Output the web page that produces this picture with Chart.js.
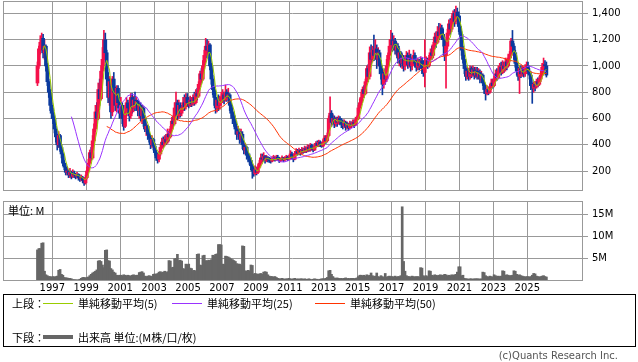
<!DOCTYPE html>
<html>
<head>
<meta charset="utf-8">
<script src="https://cdn.jsdelivr.net/npm/chart.js@4.4.1/dist/chart.umd.min.js"></script>
<style>
body{margin:0;background:#fff;width:638px;height:362px;position:relative;overflow:hidden;font-family:"Noto Sans CJK JP",sans-serif;color:#000}
canvas{position:absolute;left:0}
#price{top:0}
#vol{top:195px}
.lg{position:absolute;font-size:11px;line-height:12px;white-space:nowrap}
.ln{position:absolute;width:30px;height:1px}
#box{position:absolute;left:3px;top:294px;width:633px;height:53px;border:1px solid #000;box-sizing:border-box}
#copy{position:absolute;right:20px;top:350px;font:10px "DejaVu Sans",sans-serif;line-height:12px;color:#555}
</style>
</head>
<body>
<canvas id="price" width="638" height="192"></canvas>
<canvas id="vol" width="638" height="100"></canvas>
<div class="lg" style="left:8px;top:204px">単位: M</div>

<div id="box"></div>
<div class="lg" style="left:12px;top:297px">上段：</div>
<div class="ln" style="left:43px;top:303px;background:#99cc00"></div>
<div class="lg" style="left:78px;top:297px">単純移動平均(5)</div>
<div class="ln" style="left:172px;top:303px;background:#9933ff"></div>
<div class="lg" style="left:207px;top:297px">単純移動平均(25)</div>
<div class="ln" style="left:315px;top:303px;background:#ff3300"></div>
<div class="lg" style="left:350px;top:297px">単純移動平均(50)</div>
<div class="lg" style="left:12px;top:331px">下段：</div>
<div class="ln" style="left:43px;top:335px;height:4px;background:#666"></div>
<div class="lg" style="left:78px;top:331px">出来高 単位:(M株/口/枚)</div>
<div id="copy">(c)Quants Research Inc.</div>

<script>
// monthly bars, first one is Feb 1996
const startYear = 1996, startMonth = 2;

const open = [
  870,1000,1130,1180,1210,1100,1150,1000,880,800,700,
  640,600,520,460,400,470,380,330,260,230,190,200,
  170,190,160,180,170,160,175,150,140,150,130,110,
  150,200,260,340,300,430,520,650,600,820,750,960,
  1050,1200,1100,900,760,880,650,900,800,700,830,720,
  640,700,600,540,650,720,680,620,760,680,740,700,
  730,660,700,620,680,600,520,540,480,450,400,440,
  390,340,300,290,330,380,420,400,440,420,480,460,
  520,580,560,680,720,620,700,640,680,720,690,760,
  720,700,740,710,760,720,790,770,860,940,900,1000,
  1080,1150,1120,1160,1000,900,820,760,680,740,700,730,
  760,780,740,800,760,780,700,640,620,580,520,480,
  500,440,480,400,360,380,320,300,280,240,200,180,
  210,190,230,260,300,290,310,280,300,290,280,275,
  290,300,285,305,295,280,290,300,285,295,305,290,
  300,330,310,290,330,350,335,355,340,360,345,370,
  355,380,360,395,375,360,390,410,395,420,400,390,
  420,450,430,470,600,640,570,600,560,590,570,600,
  580,560,545,570,540,555,530,560,545,570,550,590,
  600,680,720,760,820,790,880,980,920,1100,1050,1120,
  1080,1130,1050,1100,1000,950,860,940,900,1000,1080,1150,
  1200,1160,1190,1120,1150,1060,1100,1020,1060,1000,1040,1080,
  1010,1060,1000,1040,1080,1020,990,1030,1000,1040,980,950,
  1010,1040,1000,1050,1100,1080,1160,1220,1180,1260,1230,1290,
  1240,1200,1080,1150,1250,1320,1280,1350,1400,1340,1410,1380,
  1300,1240,1120,1050,980,920,960,920,980,940,970,930,
  960,920,950,900,930,870,820,790,820,800,840,870,
  850,900,940,910,960,990,950,1000,980,1030,1000,1060,
  1080,1190,1150,1100,1020,960,920,980,940,980,940,990,
  1000,960,930,850,830,860,840,880,860,900,930,990,
  1010,1000
];
const high = [
  1030,1150,1230,1250,1240,1200,1160,1020,900,820,720,
  680,620,540,480,500,480,400,340,280,250,230,210,
  220,200,210,200,185,190,180,165,170,160,140,170,
  230,290,360,380,470,560,700,720,870,900,1000,1140,
  1270,1250,1120,950,920,900,920,950,840,850,850,760,
  760,720,640,700,760,740,700,790,790,770,800,760,
  740,720,720,700,690,620,560,550,500,470,470,450,
  410,360,320,350,400,450,460,470,480,520,500,540,
  610,620,720,800,740,740,720,700,760,780,790,790,
  760,770,760,780,800,820,830,880,960,980,1040,1120,
  1210,1200,1190,1170,1020,930,840,800,760,780,770,800,
  820,800,855,820,830,790,720,670,650,600,540,540,
  520,520,500,420,410,390,340,330,300,250,230,240,
  230,250,280,330,330,340,320,320,310,305,300,310,
  320,310,320,320,305,300,315,305,310,320,315,320,
  355,345,330,350,370,365,375,365,380,375,390,385,
  400,395,410,405,390,410,425,430,435,430,420,440,
  470,470,490,620,765,660,630,620,610,610,620,615,
  600,590,590,580,575,565,580,575,590,590,610,620,
  700,750,800,840,850,900,1000,1010,1145,1160,1150,1235,
  1200,1160,1140,1120,1040,980,970,980,1050,1100,1200,1270,
  1250,1230,1210,1180,1170,1130,1110,1090,1080,1070,1110,1100,
  1120,1090,1070,1120,1100,1040,1060,1050,1070,1060,1040,1200,
  1070,1060,1080,1130,1150,1180,1250,1260,1300,1325,1320,1310,
  1280,1220,1180,1280,1350,1360,1380,1420,1430,1455,1440,1410,
  1380,1260,1150,1080,1000,990,980,1000,995,1000,990,990,
  990,980,970,960,940,890,840,850,840,860,900,900,
  920,970,980,1000,1020,1030,1040,1030,1060,1050,1090,1110,
  1210,1270,1170,1120,1040,990,1000,1000,1000,990,1010,1030,
  1030,980,950,870,880,880,900,910,920,960,1020,1060,
  1040,1030
];
const low = [
  850,980,1090,1120,1060,1050,960,850,760,660,600,
  560,490,420,360,380,350,300,240,210,170,170,150,
  150,140,150,150,140,145,130,120,125,110,90,100,
  140,190,250,280,290,410,500,560,590,700,740,900,
  1000,1050,850,720,700,600,620,760,660,650,680,600,
  600,560,510,530,620,640,580,600,640,650,660,680,
  620,600,580,560,540,500,470,440,420,370,380,360,
  320,280,260,270,320,370,380,390,400,410,430,450,
  510,530,550,650,590,600,610,620,660,660,670,690,
  680,690,690,700,700,710,740,760,840,870,890,980,
  1040,1060,1080,970,860,780,700,640,650,660,670,700,
  720,710,730,730,740,660,600,560,540,480,440,460,
  410,420,370,330,330,290,270,250,210,145,160,170,
  170,180,220,250,270,280,260,270,270,265,260,270,
  280,275,280,285,265,270,280,270,275,285,280,285,
  290,295,270,285,320,320,325,320,330,335,340,340,
  345,350,350,360,345,355,380,385,385,385,380,385,
  410,410,420,460,580,540,550,530,540,540,555,550,
  530,520,530,510,520,510,520,530,540,530,545,570,
  590,660,700,740,760,780,860,880,900,1000,1030,1040,
  1050,980,1000,940,900,780,830,860,880,980,1050,1120,
  1110,1120,1090,1080,1020,1000,990,980,960,970,1000,980,
  990,960,970,1010,990,960,970,970,980,940,920,840,
  990,980,990,1030,1050,1060,1130,1140,1170,1200,1210,1200,
  1150,1040,830,1130,1230,1240,1260,1320,1300,1320,1350,1260,
  1220,1080,1020,940,890,900,890,900,910,920,900,910,
  900,900,870,880,850,790,740,780,780,790,820,830,
  840,880,890,900,940,930,940,950,960,970,990,1030,
  1060,1120,1050,990,930,890,790,910,920,915,920,960,
  940,900,820,715,800,810,830,840,850,880,920,960,
  940,915
];
const close = [
  1000,1130,1180,1210,1100,1150,1000,880,800,700,640,
  600,520,460,400,470,380,330,260,230,190,200,170,
  190,160,180,170,160,175,150,140,150,130,110,150,
  200,260,340,300,430,520,650,600,820,750,960,1050,
  1200,1100,900,760,880,650,900,800,700,830,720,640,
  700,600,540,650,720,680,620,760,680,740,700,730,
  660,700,620,680,600,520,540,480,450,400,440,390,
  340,300,290,330,380,420,400,440,420,480,460,520,
  580,560,680,720,620,700,640,680,720,690,760,720,
  700,740,710,760,720,790,770,860,940,900,1000,1080,
  1150,1120,1160,1000,900,820,760,680,740,700,730,760,
  780,740,800,760,780,700,640,620,580,520,480,500,
  440,480,400,360,380,320,300,280,240,200,180,210,
  190,230,260,300,290,310,280,300,290,280,275,290,
  300,285,305,295,280,290,300,285,295,305,290,300,
  330,310,290,330,350,335,355,340,360,345,370,355,
  380,360,395,375,360,390,410,395,420,400,390,420,
  450,430,470,600,640,570,600,560,590,570,600,580,
  560,545,570,540,555,530,560,545,570,550,590,600,
  680,720,760,820,790,880,980,920,1100,1050,1120,1080,
  1130,1050,1100,1000,950,860,940,900,1000,1080,1150,1200,
  1160,1190,1120,1150,1060,1100,1020,1060,1000,1040,1080,1010,
  1060,1000,1040,1080,1020,990,1030,1000,1040,980,950,1010,
  1040,1000,1050,1100,1080,1160,1220,1180,1260,1230,1290,1240,
  1200,1080,1150,1250,1320,1280,1350,1400,1340,1410,1380,1300,
  1240,1120,1050,980,920,960,920,980,940,970,930,960,
  920,950,900,930,870,820,790,820,800,840,870,850,
  900,940,910,960,990,950,1000,980,1030,1000,1060,1080,
  1190,1150,1100,1020,960,920,980,940,980,940,990,1000,
  960,930,850,830,860,840,880,860,900,930,990,1010,
  1000,930
];
// volume, millions
const volume = [
  7.0,7.3,7.3,8.5,8.6,2.2,1.4,1.2,1.0,1.0,0.9,
  1.0,0.9,1.0,1.1,2.4,2.6,1.5,1.3,0.8,0.7,0.7,0.6,
  0.6,0.5,0.3,0.3,0.3,0.2,0.3,0.4,0.6,0.8,0.8,0.7,
  0.8,0.9,1.2,1.5,1.8,2.0,2.2,2.5,4.5,4.6,4.4,3.6,
  3.0,6.9,7.0,4.6,4.5,2.8,2.5,2.0,1.8,1.3,1.2,1.3,
  1.3,1.2,1.4,1.3,1.2,1.3,1.2,1.1,1.3,1.4,1.2,1.3,
  1.3,1.9,2.0,2.1,1.8,1.1,1.0,1.1,1.2,1.1,1.0,1.5,
  1.6,1.5,1.7,2.0,2.1,1.9,2.0,2.2,1.9,2.1,4.6,4.5,
  3.0,3.1,5.0,5.1,6.0,4.6,4.7,4.5,2.8,2.7,3.8,3.7,
  3.8,2.9,2.8,2.3,2.4,2.2,6.0,6.1,3.6,3.5,5.7,5.8,
  4.6,4.5,4.7,4.6,4.8,5.8,5.7,6.0,6.1,8.2,8.2,8.1,
  3.8,3.7,5.6,5.5,5.4,5.2,5.0,4.8,4.6,4.4,3.9,3.8,
  3.8,3.6,7.9,7.8,2.3,2.2,2.4,2.3,3.6,3.5,1.6,1.7,
  1.6,1.5,1.6,1.7,1.5,2.0,2.1,2.0,1.4,1.1,1.0,1.0,
  0.9,1.0,0.8,0.6,0.5,0.5,0.6,0.5,0.4,0.5,0.5,0.6,
  0.5,0.4,0.5,0.6,0.4,0.5,0.4,0.5,0.5,0.4,0.5,0.4,
  0.4,0.5,0.4,0.3,0.4,0.5,0.4,0.4,0.3,0.4,0.5,0.5,
  0.5,0.6,0.8,2.3,2.4,1.5,1.0,0.7,0.6,0.7,0.6,0.5,
  0.6,0.5,0.6,0.7,0.5,0.6,0.5,0.6,0.6,0.5,0.6,0.7,
  1.0,1.3,1.3,1.2,1.3,1.1,1.4,1.2,1.3,1.8,1.2,1.0,
  1.1,1.8,1.0,0.9,1.2,1.0,0.8,1.7,0.9,1.0,1.1,1.0,
  1.0,0.9,1.1,0.9,1.0,1.0,1.2,16.7,4.4,2.2,1.2,1.0,
  1.0,0.9,1.1,1.0,0.9,1.0,1.0,0.9,3.0,2.9,1.2,1.0,
  1.2,1.0,2.3,2.2,1.3,1.2,1.4,1.3,1.2,1.3,1.4,1.3,
  1.3,1.5,1.4,1.2,1.3,1.2,1.4,1.3,1.4,1.5,2.0,3.2,
  3.2,1.2,1.3,0.6,0.5,0.5,0.4,0.5,0.5,0.4,0.5,0.5,
  0.5,0.5,0.4,0.5,2.0,1.9,1.2,1.0,0.9,1.1,1.0,0.9,
  1.4,1.2,1.0,1.1,1.0,1.1,2.3,2.2,1.3,1.4,1.3,1.2,
  1.2,1.3,2.3,2.2,1.5,1.3,1.4,1.2,1.1,1.0,0.9,1.0,
  1.0,0.9,1.0,1.3,1.7,1.6,1.1,1.0,0.9,1.0,1.1,1.2,
  1.0,0.9
];

const yearTicks = [1997,1999,2001,2003,2005,2007,2009,2011,2013,2015,2017,2019,2021,2023,2025];
const priceTicks = [200,400,600,800,1000,1200,1400];
const volumeTicks = [5,10,15];

const xMin = 1994.094, xMax = 2028.224;
const UP = '#f5104a', DOWN = '#0b3a9e', GRID = '#999999';
const tickFont = {family: 'DejaVu Sans', size: 10};

const t = close.map((_, i) => startYear + (startMonth - 1 + i + 0.5) / 12);
const candleColor = close.map((c, i) => c >= open[i] ? UP : DOWN);

function sma(n) {
    return close.map((_, i) => {
        if (i < n - 1) return {x: t[i], y: null};
        let s = 0;
        for (let k = i - n + 1; k <= i; k++) s += close[k];
        return {x: t[i], y: s / n};
    });
}

// grey frame round the plot area
const frame = {
    id: 'frame',
    afterDatasetsDraw(chart) {
        const a = chart.chartArea, ctx = chart.ctx;
        ctx.save();
        ctx.strokeStyle = GRID;
        ctx.lineWidth = 1;
        ctx.strokeRect(a.left + 0.5, a.top + 0.5, a.right - a.left, a.bottom - a.top - 1);
        ctx.restore();
    }
};

function noPad(s) {
    s.paddingTop = 0; s.paddingBottom = 0; s.paddingLeft = 0; s.paddingRight = 0;
}

function xAxis(showLabels, h) {
    return {
        type: 'linear', min: xMin, max: xMax, offset: false,
        afterBuildTicks: s => { s.ticks = yearTicks.map(v => ({value: v})); },
        afterFit: s => { s.height = h; noPad(s); },
        grid: {color: GRID, offset: false, drawTicks: false},
        border: {display: false},
        ticks: {display: showLabels, autoSkip: false, maxRotation: 0, padding: 1,
                font: tickFont, color: '#000', callback: v => String(v)}
    };
}

function yAxis(min, max, ticks, fmt) {
    return {
        position: 'right', min, max,
        afterBuildTicks: s => { s.ticks = ticks.map(v => ({value: v})); },
        afterFit: s => { s.width = 56; noPad(s); },
        grid: {color: GRID, tickLength: 6},
        border: {display: false},
        ticks: {padding: 4, font: tickFont, color: '#000', callback: fmt}
    };
}

const common = {
    responsive: false, animation: false, events: [],
    plugins: {legend: {display: false}, tooltip: {enabled: false}}
};

new Chart(document.getElementById('price'), {
    type: 'bar',
    data: {
        datasets: [
            {type: 'line', data: sma(5), borderColor: '#99cc00', borderWidth: 1, pointRadius: 0, tension: 0},
            {type: 'line', data: sma(25), borderColor: '#9933ff', borderWidth: 1, pointRadius: 0, tension: 0},
            {type: 'line', data: sma(50), borderColor: '#ff3300', borderWidth: 1, pointRadius: 0, tension: 0},
            {data: close.map((c, i) => ({x: t[i], y: [open[i], c]})), backgroundColor: candleColor,
             barThickness: 3, grouped: false, borderWidth: 0},
            {data: high.map((h, i) => ({x: t[i], y: [low[i], h]})), backgroundColor: candleColor,
             barThickness: 1, grouped: false, borderWidth: 0}
        ]
    },
    options: {
        ...common,
        layout: {padding: {left: 3, top: 1, right: 0, bottom: 1}},
        scales: {
            x: xAxis(false, 0),
            y: yAxis(48, 1494, priceTicks, v => v.toLocaleString('en-US'))
        }
    },
    plugins: [frame]
});

new Chart(document.getElementById('vol'), {
    type: 'bar',
    data: {
        datasets: [
            {data: volume.map((v, i) => ({x: t[i], y: v})), backgroundColor: '#666666',
             barThickness: 2, borderWidth: 0}
        ]
    },
    options: {
        ...common,
        layout: {padding: {left: 3, top: 6, right: 0, bottom: 0}},
        scales: {
            x: xAxis(true, 14),
            y: yAxis(0, 18, volumeTicks, v => v + 'M')
        }
    },
    plugins: [frame]
});
</script>
</body>
</html>
